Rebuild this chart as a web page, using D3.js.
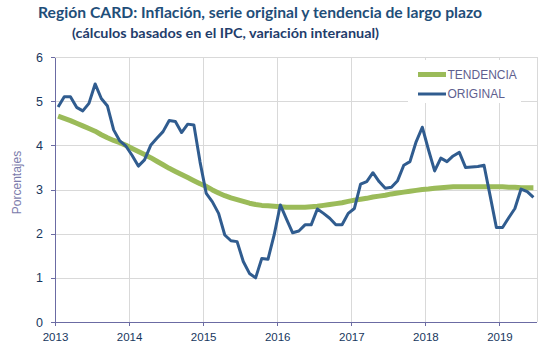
<!doctype html>
<html>
<head>
<meta charset="utf-8">
<script src="https://cdn.jsdelivr.net/npm/d3@7"></script>
<style>
  body { margin: 0; background: #fff; }
  svg { display: block; font-family: "Liberation Sans", Arial, sans-serif; }
  .grid line { stroke: #d9d9d9; shape-rendering: crispEdges; }
  .axis path, .axis line { stroke: #6b6ba3; shape-rendering: crispEdges; }
  .axis text { fill: #17375e; font-size: 11.5px; }
</style>
</head>
<body>
<svg width="543" height="351"></svg>
<script>
// year tick labels (one tick every 12 months, starting Jan 2013)
var years = ["2013", "2014", "2015", "2016", "2017", "2018", "2019"];
var yTicks = [0, 1, 2, 3, 4, 5, 6];

// monthly values Jan 2013 .. Jun 2019
var original = [
  4.87, 5.10, 5.10, 4.86, 4.78, 4.95, 5.39, 5.06, 4.89, 4.35, 4.10, 3.98,
  3.77, 3.53, 3.67, 4.00, 4.16, 4.31, 4.56, 4.54, 4.29, 4.48, 4.46, 3.62,
  2.91, 2.72, 2.46, 1.97, 1.84, 1.82, 1.37, 1.10, 1.00, 1.44, 1.42, 1.97,
  2.65, 2.33, 2.02, 2.06, 2.20, 2.20, 2.56, 2.46, 2.35, 2.20, 2.20, 2.46,
  2.57, 3.12, 3.18, 3.38, 3.18, 3.03, 3.05, 3.20, 3.55, 3.63, 4.08, 4.41,
  3.90, 3.42, 3.71, 3.63, 3.76, 3.84, 3.50, 3.51, 3.52, 3.55, 2.85, 2.14,
  2.14, 2.36, 2.57, 3.01, 2.95, 2.82
];
var tendencia = [
  4.66, 4.61, 4.56, 4.50, 4.44, 4.38, 4.32, 4.24, 4.17, 4.11, 4.06, 4.00,
  3.93, 3.86, 3.79, 3.72, 3.64, 3.56, 3.48, 3.41, 3.34, 3.27, 3.20, 3.13,
  3.07, 2.99, 2.92, 2.86, 2.81, 2.77, 2.73, 2.69, 2.66, 2.64, 2.63, 2.62,
  2.61, 2.60, 2.60, 2.60, 2.60, 2.61, 2.62, 2.64, 2.66, 2.68, 2.70, 2.73,
  2.76, 2.78, 2.80, 2.83, 2.85, 2.87, 2.90, 2.92, 2.94, 2.96, 2.98, 3.00,
  3.01, 3.03, 3.04, 3.05, 3.06, 3.06, 3.06, 3.06, 3.06, 3.06, 3.06, 3.06,
  3.06, 3.05, 3.05, 3.04, 3.04, 3.04
];

var svg = d3.select("svg");
var plotL = 55, plotR = 536.5, plotT = 57, plotB = 322;

var x = d3.scaleLinear().domain([0, 78]).range([plotL, plotR]);
var y = d3.scaleLinear().domain([0, 6]).range([plotB, plotT]);

// gridlines
var grid = svg.append("g").attr("class", "grid");
grid.selectAll("line.h").data(yTicks.slice(1)).enter().append("line")
  .attr("x1", plotL).attr("x2", plotR)
  .attr("y1", function(d) { return Math.round(y(d)) + 0.5; })
  .attr("y2", function(d) { return Math.round(y(d)) + 0.5; });
grid.selectAll("line.v").data(d3.range(1, years.length)).enter().append("line")
  .attr("y1", plotT).attr("y2", plotB)
  .attr("x1", function(d) { return Math.round(x(d * 12)) + 0.5; })
  .attr("x2", function(d) { return Math.round(x(d * 12)) + 0.5; });
grid.append("line")
  .attr("x1", Math.round(plotR) + 0.5).attr("x2", Math.round(plotR) + 0.5)
  .attr("y1", plotT).attr("y2", plotB);

// axes
var xAxis = d3.axisBottom(x)
  .tickValues(d3.range(0, years.length).map(function(i) { return i * 12; }))
  .tickFormat(function(d) { return years[d / 12]; })
  .tickSize(4).tickSizeOuter(0);
var gx = svg.append("g").attr("class", "axis")
  .attr("transform", "translate(0," + plotB + ")").call(xAxis);
gx.selectAll("text").attr("dy", "1.05em");

var yAxis = d3.axisLeft(y).tickValues(yTicks).tickSize(4).tickSizeOuter(0)
  .tickFormat(d3.format("d"));
var gy = svg.append("g").attr("class", "axis")
  .attr("transform", "translate(" + plotL + ",0)").call(yAxis);
gy.selectAll("text").attr("x", -12).style("font-size", "12.5px");

// lines
var line = d3.line()
  .x(function(d, i) { return x(i + 0.5); })
  .y(function(d) { return y(d); });

svg.append("path").datum(tendencia)
  .attr("fill", "none").attr("stroke", "#9bbb59")
  .attr("stroke-width", 5).attr("stroke-linejoin", "round")
  .attr("d", line);

svg.append("path").datum(original)
  .attr("fill", "none").attr("stroke", "#305c8f")
  .attr("stroke-width", 3).attr("stroke-linejoin", "round")
  .attr("d", line);

// legend
var legend = svg.append("g");
legend.append("rect").attr("x", 408).attr("y", 60).attr("width", 113).attr("height", 43)
  .attr("fill", "#fff");
var legItems = [["TENDENCIA", "#9bbb59", 5], ["ORIGINAL", "#305c8f", 3]];
legItems.forEach(function(it, i) {
  var ly = 74.5 + i * 19.5;
  legend.append("line").attr("x1", 418).attr("x2", 446).attr("y1", ly).attr("y2", ly)
    .attr("stroke", it[1]).attr("stroke-width", it[2]);
  legend.append("text").attr("x", 447.5).attr("y", ly).attr("dy", "0.35em")
    .style("font-size", "12px").attr("fill", "#5f5f8f").text(it[0]);
});

// titles
svg.append("text").attr("x", 38).attr("y", 18)
  .attr("textLength", 444).attr("lengthAdjust", "spacingAndGlyphs")
  .style("font-family", "Lato, 'DejaVu Sans', sans-serif")
  .style("font-size", "16px").style("font-weight", "bold").attr("fill", "#1f4e79")
  .text("Región CARD: Inflación, serie original y tendencia de largo plazo");
svg.append("text").attr("x", 72).attr("y", 38)
  .attr("textLength", 307).attr("lengthAdjust", "spacingAndGlyphs")
  .style("font-family", "Lato, 'DejaVu Sans', sans-serif")
  .style("font-size", "13px").style("font-weight", "bold").attr("fill", "#1f3d6b")
  .text("(cálculos basados en el IPC, variación interanual)");

// y axis title
svg.append("text")
  .attr("transform", "translate(21," + ((plotT + plotB) / 2 - 7) + ") rotate(-90)")
  .attr("text-anchor", "middle")
  .style("font-size", "12px").attr("fill", "#7b7bab")
  .text("Porcentajes");
</script>
</body>
</html>
